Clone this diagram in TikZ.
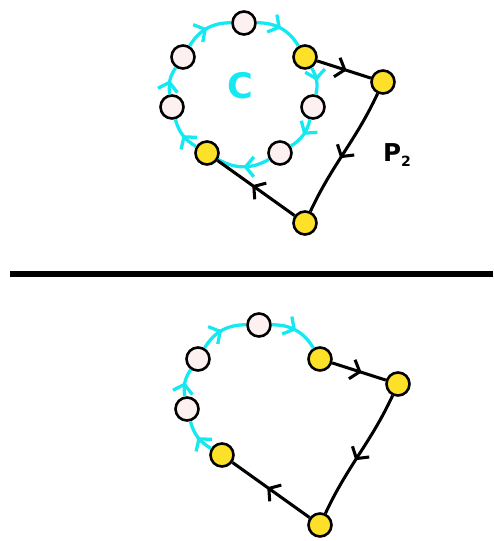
\documentclass[tikz,border=0pt]{standalone}
\usepackage{fontspec}
\setsansfont{DejaVu Sans}
\usetikzlibrary{arrows.meta}
\usetikzlibrary{decorations.markings}
\definecolor{cycol}{RGB}{20,232,240}
\definecolor{ycol}{RGB}{253,224,40}
\definecolor{pcol}{RGB}{253,240,240}
\tikzset{
    cnode/.style = {circle, line width=2.2pt, draw=black, fill=pcol, minimum size=0.69cm, inner sep=0pt},
    cnodey/.style = {circle, line width=2.2pt, draw=black, fill=ycol, minimum size=0.69cm, inner sep=0pt},
    midarrow/.style = {postaction={decorate}, decoration={markings, mark=at position #1 with {\arrow{Straight Barb[length=7pt,width=17pt]}}}},
    midarrow/.default = 0.5,
    edgec/.style = {line width=2.8pt, draw=cycol, midarrow},
    edgen/.style = {line width=2.6pt, draw=black, midarrow=0.55},
}

\begin{document}
\begin{tikzpicture}[x=0.03cm, y=-0.03cm]
  \useasboundingbox (0,0) rectangle (493,541);
  % upper picture
  \node (c1) at (244,23) [cnode] {};
  \node (c2) at (305,57) [cnodey] {};
  \node (c3) at (313,107) [cnode] {};
  \node (c4) at (280,153) [cnode] {};
  \node (c5) at (207,153) [cnodey] {};
  \node (c6) at (172,107) [cnode] {};
  \node (c7) at (183,57) [cnode] {};
  \node (p1) at (383,82) [cnodey] {};
  \node (p2) at (305,223) [cnodey] {};
  \node (lc) at (240,86) [text=cycol, font=\sffamily\bfseries\fontsize{30}{30}\selectfont] {C};
  \node (lp) at (397,155) [font=\sffamily\bfseries\fontsize{21}{21}\selectfont] {P\raisebox{-0.35ex}{\fontsize{12}{12}\selectfont 2}};
  \draw[edgec] (c1) to[bend left=30] (c2);
  \draw[edgec] (c2) to[bend left=22] (c3);
  \draw[edgec] (c3) to[bend left=22] (c4);
  \draw[edgec] (c4) to[bend left=30] (c5);
  \draw[edgec] (c5) to[bend left=22] (c6);
  \draw[edgec] (c6) to[bend left=22] (c7);
  \draw[edgec] (c7) to[bend left=30] (c1);
  \draw[edgen] (c2) -- (p1);
  \draw[edgen] (p1) to[out=-115, in=65] (p2);
  \draw[edgen] (p2) -- (c5);
  % separator
  \coordinate (s1) at (10,274);
  \coordinate (s2) at (493,274);
  \draw[line width=5.5pt] (s1) -- (s2);
  % lower picture
  \begin{scope}[shift={(15,302)}]
  \node (b1) at (244,23) [cnode] {};
  \node (b2) at (305,57) [cnodey] {};
  \node (b5) at (207,153) [cnodey] {};
  \node (b6) at (172,107) [cnode] {};
  \node (b7) at (183,57) [cnode] {};
  \node (q1) at (383,82) [cnodey] {};
  \node (q2) at (305,223) [cnodey] {};
  \draw[edgec] (b1) to[bend left=30] (b2);
  \draw[edgec] (b5) to[bend left=22] (b6);
  \draw[edgec] (b6) to[bend left=22] (b7);
  \draw[edgec] (b7) to[bend left=30] (b1);
  \draw[edgen] (b2) -- (q1);
  \draw[edgen] (q1) to[out=-115, in=65] (q2);
  \draw[edgen] (q2) -- (b5);
  \end{scope}
\end{tikzpicture}
\end{document}
